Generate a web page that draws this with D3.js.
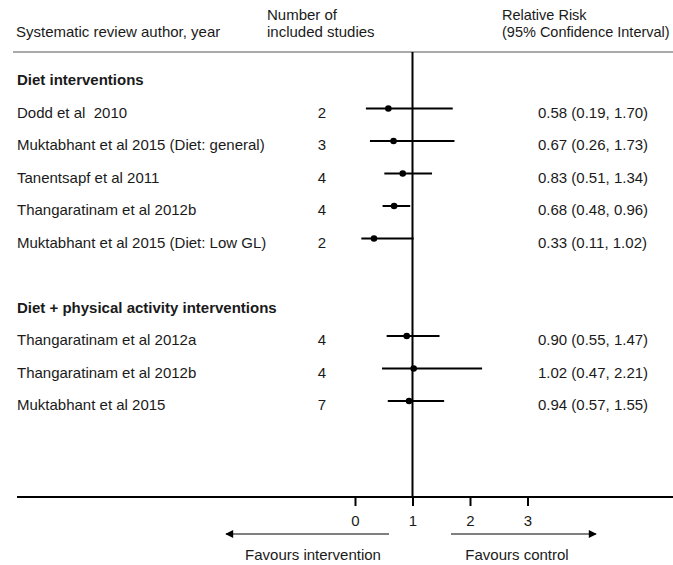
<!DOCTYPE html>
<html>
<head>
<meta charset="utf-8">
<script src="https://cdn.jsdelivr.net/npm/d3@7"></script>
<style>
  body { margin: 0; background: #fff; }
  svg text { font-family: "Liberation Sans", Arial, sans-serif; fill: #1a1a1a; font-size: 15px; white-space: pre; }
</style>
</head>
<body>
<svg id="chart" width="673" height="565"></svg>
<script>
// rows of the forest plot (group headers have no estimate)
const labels = ['Diet interventions', 'Dodd et al  2010', 'Muktabhant et al 2015 (Diet: general)', 'Tanentsapf et al 2011',
    'Thangaratinam et al 2012b', 'Muktabhant et al 2015 (Diet: Low GL)', '',
    'Diet + physical activity interventions', 'Thangaratinam et al 2012a', 'Thangaratinam et al 2012b', 'Muktabhant et al 2015']
const isHeader = [true, false, false, false, false, false, false, true, false, false, false]
const nStudies = [null, 2, 3, 4, 4, 2, null, null, 4, 4, 7]
const rr = [null, 0.58, 0.67, 0.83, 0.68, 0.33, null, null, 0.90, 1.02, 0.94]
const lower = [null, 0.19, 0.26, 0.51, 0.48, 0.11, null, null, 0.55, 0.47, 0.57]
const upper = [null, 1.70, 1.73, 1.34, 0.96, 1.02, null, null, 1.47, 2.21, 1.55]
const ticks = [0, 1, 2, 3]

const svg = d3.select('#chart')

// scales
const x = d3.scaleLinear().domain([0, 3]).range([355, 527.5])
const y = d3.scaleLinear().domain([0, 10]).range([76, 401])
const axisY = 497

// column headers
svg.append('text').attr('x', 16).attr('y', 37).text('Systematic review author, year')
svg.append('text').attr('x', 267).attr('y', 20).text('Number of')
svg.append('text').attr('x', 267).attr('y', 37).text('included studies')
svg.append('text').attr('x', 502).attr('y', 20).style('font-size', '14.5px').text('Relative Risk')
svg.append('text').attr('x', 502).attr('y', 37).style('font-size', '14.5px').text('(95% Confidence Interval)')

svg.append('line')
    .attr('x1', 13).attr('x2', 673).attr('y1', 52).attr('y2', 52)
    .attr('stroke', '#aaa').attr('stroke-width', 2)

// line of no effect
svg.append('line')
    .attr('x1', x(1)).attr('x2', x(1)).attr('y1', 52).attr('y2', axisY)
    .attr('stroke', '#000').attr('stroke-width', 2)

// row labels
svg.selectAll('.label').data(labels).enter().append('text')
    .attr('class', 'label')
    .attr('x', 17)
    .attr('y', (d, i) => y(i) + 9)
    .style('font-weight', (d, i) => isHeader[i] ? 'bold' : 'normal')
    .text(d => d)

// data rows
const idx = d3.range(labels.length).filter(i => rr[i] !== null)

svg.selectAll('.n').data(idx).enter().append('text')
    .attr('class', 'n')
    .attr('x', 322)
    .attr('y', i => y(i) + 9)
    .style('text-anchor', 'middle')
    .text(i => nStudies[i])

svg.selectAll('.ci').data(idx).enter().append('line')
    .attr('class', 'ci')
    .attr('x1', i => x(lower[i])).attr('x2', i => x(upper[i]))
    .attr('y1', i => y(i)).attr('y2', i => y(i))
    .attr('stroke', '#000').attr('stroke-width', 2)

svg.selectAll('.pt').data(idx).enter().append('circle')
    .attr('class', 'pt')
    .attr('cx', i => x(rr[i])).attr('cy', i => y(i)).attr('r', 3.3)
    .attr('fill', '#000')

svg.selectAll('.est').data(idx).enter().append('text')
    .attr('class', 'est')
    .attr('x', 538)
    .attr('y', i => y(i) + 9)
    .text(i => rr[i].toFixed(2) + ' (' + lower[i].toFixed(2) + ', ' + upper[i].toFixed(2) + ')')

// x axis
svg.append('line')
    .attr('x1', 17).attr('x2', 673).attr('y1', axisY).attr('y2', axisY)
    .attr('stroke', '#000').attr('stroke-width', 2)

const axis = svg.append('g')
    .attr('transform', 'translate(0,' + (axisY - 1) + ')')
    .call(d3.axisBottom(x).tickValues(ticks).tickFormat(d3.format('d')).tickSize(10).tickPadding(9))
axis.select('.domain').remove()
axis.selectAll('line').attr('stroke', '#000').attr('stroke-width', 2)
axis.selectAll('text')
    .style('font-size', '15px')
    .style('font-family', '"Liberation Sans", Arial, sans-serif')
    .attr('fill', '#1a1a1a')

// favours arrows
const defs = svg.append('defs')
defs.append('marker')
    .attr('id', 'arrow').attr('viewBox', '0 0 10 10')
    .attr('refX', 9).attr('refY', 5)
    .attr('markerWidth', 9).attr('markerHeight', 8)
    .attr('markerUnits', 'userSpaceOnUse')
    .attr('orient', 'auto')
    .append('path').attr('d', 'M0,0 L10,5 L0,10 Z').attr('fill', '#000')

svg.append('line')
    .attr('x1', 389).attr('x2', 226).attr('y1', 534).attr('y2', 534)
    .attr('stroke', '#000').attr('stroke-width', 1.2).attr('marker-end', 'url(#arrow)')
svg.append('line')
    .attr('x1', 451).attr('x2', 596).attr('y1', 534).attr('y2', 534)
    .attr('stroke', '#000').attr('stroke-width', 1.2).attr('marker-end', 'url(#arrow)')

svg.append('text').attr('x', 313).attr('y', 560).style('text-anchor', 'middle').text('Favours intervention')
svg.append('text').attr('x', 517).attr('y', 560).style('text-anchor', 'middle').text('Favours control')
</script>
</body>
</html>
